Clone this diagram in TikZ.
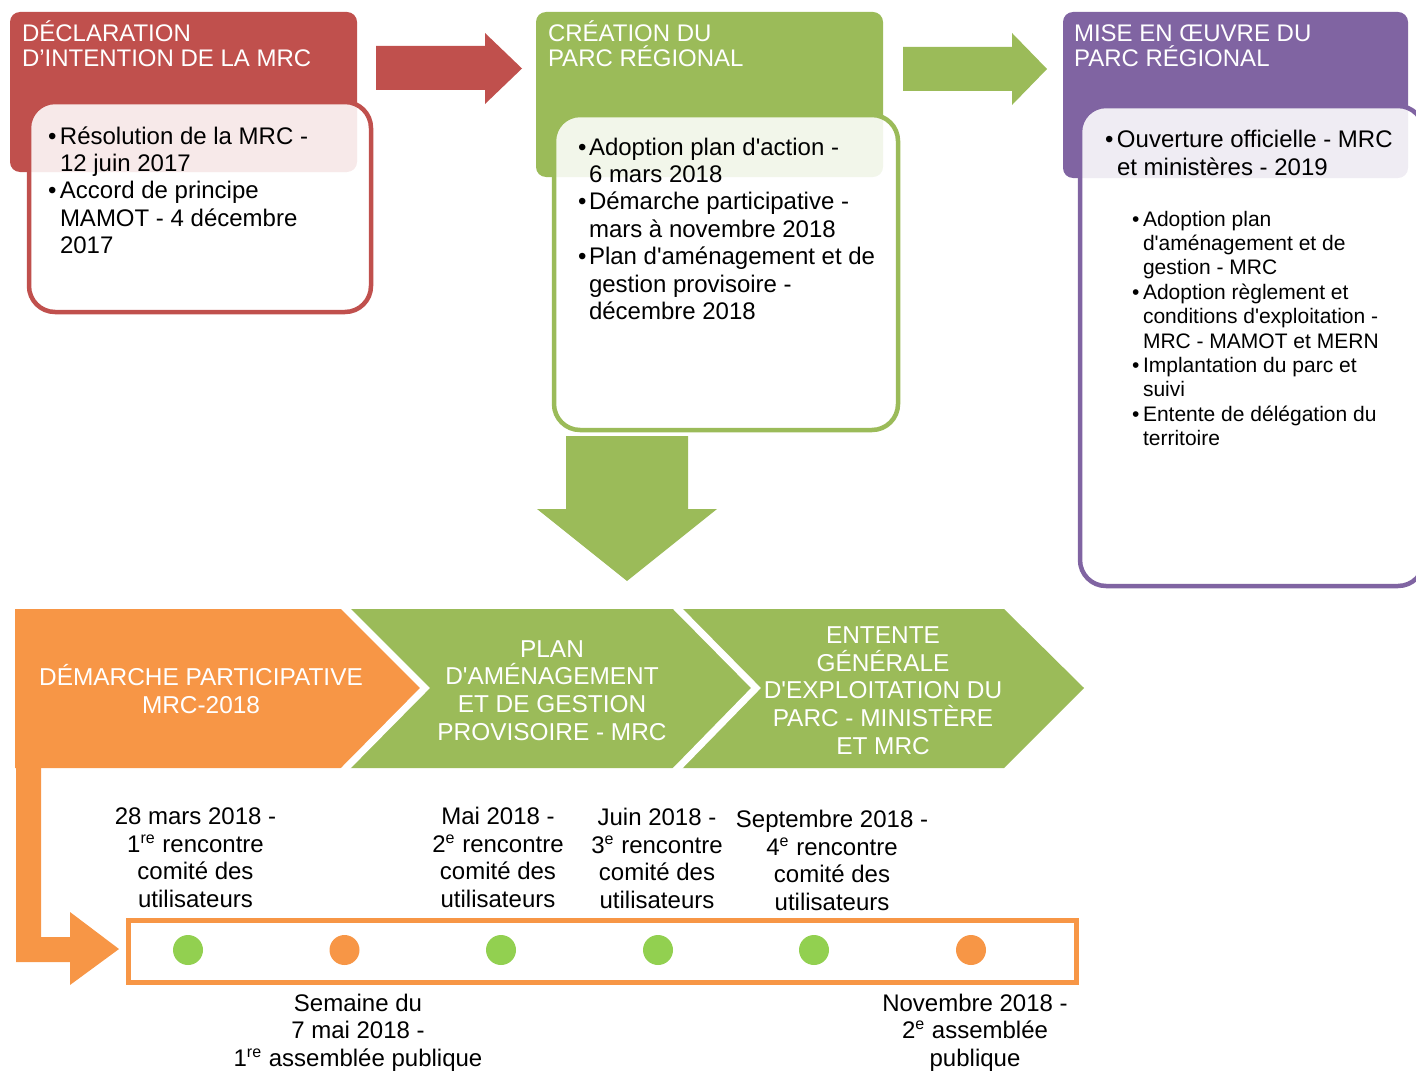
\documentclass[tikz,border=0pt]{standalone}
\usepackage{fontspec}
\setmainfont{Liberation Sans}[Ligatures=TeXOff]
\usepackage{tikz}
\usetikzlibrary{calc}
\definecolor{declred}{HTML}{C0504D}
\definecolor{parcgreen}{HTML}{9BBB59}
\definecolor{miseviolet}{HTML}{8064A2}
\definecolor{demorange}{HTML}{F79646}
\definecolor{dotgreen}{HTML}{92D050}
\newenvironment{blist}[1]{\begin{tabular}[t]{@{}p{#1}@{}l@{}}}{\end{tabular}}

\begin{document}
\begin{tikzpicture}[x=0.5pt,y=-0.5pt,
    every node/.style={inner sep=0pt,outer sep=0pt},
    hdrtext/.style={anchor=base west,align=left,text=white,font=\fontsize{12}{12.9}\selectfont},
    bodytext/.style={anchor=base west,font=\fontsize{12}{13.7}\selectfont},
    smalltext/.style={anchor=base west,font=\fontsize{10.5}{12.2}\selectfont},
    chevtext/.style={anchor=base,align=center,text=white,font=\fontsize{12.2}{13.8}\selectfont},
    datetext/.style={anchor=base,align=center,font=\fontsize{12}{13.7}\selectfont},
    inbox/.style={draw=#1,line width=2.25pt,fill=white,fill opacity=0.88,rounded corners=13pt},
    tdot/.style={circle,minimum size=15pt,fill=#1}]

            \useasboundingbox (0,0) rectangle (1416,1070);
            \clip (0,0) rectangle (1416,1070);

            % Phase headers (anchored on their last line)
            \fill[declred,rounded corners=5pt] (10,12) rectangle (357,172);
            \fill[parcgreen,rounded corners=5pt] (536,12) rectangle (883,177);
            \fill[miseviolet,rounded corners=5pt] (1063,12) rectangle (1408,178);

            \node[hdrtext] (hDecl) at (22,67) {DÉCLARATION\\D’INTENTION DE LA MRC};
            \node[hdrtext] (hParc) at (548,67) {CRÉATION DU\\PARC RÉGIONAL};
            \node[hdrtext] (hMise) at (1074,67) {MISE EN ŒUVRE DU\\PARC RÉGIONAL};

            % Detail boxes
            \draw[inbox=declred] (29,102) rectangle (371,312);
            \draw[inbox=parcgreen] (554,115) rectangle (898,430);
            \draw[inbox=miseviolet] (1080,106) rectangle (1424,586);

            \node[bodytext] (lDecl) at (48,144) {\begin{blist}{6pt}
                \textbullet & Résolution de la MRC - \\ & 12 juin 2017 \\
                \textbullet & Accord de principe \\ & MAMOT - 4 décembre \\ & 2017
                \end{blist}};
            \node[bodytext] (lParc) at (578,155) {\begin{blist}{5.5pt}
                \textbullet & Adoption plan d'action - \\ & 6 mars 2018 \\
                \textbullet & Démarche participative - \\ & mars à novembre 2018 \\
                \textbullet & Plan d'aménagement et de \\ & gestion provisoire - \\ & décembre 2018
                \end{blist}};
            \node[bodytext] (lMise) at (1105,148) {\begin{blist}{6pt}
                \textbullet & Ouverture officielle - MRC \\ & et ministères - 2019
                \end{blist}};
            \node[smalltext] (sMise) at (1132,226) {\begin{blist}{5.5pt}
                \textbullet & Adoption plan \\ & d'aménagement et de \\ & gestion - MRC \\
                \textbullet & Adoption règlement et \\ & conditions d'exploitation - \\ & MRC - MAMOT et MERN \\
                \textbullet & Implantation du parc et \\ & suivi \\
                \textbullet & Entente de délégation du \\ & territoire
                \end{blist}};

            % Block arrows between phases
            \fill[declred] (376,46) -- (485,46) -- (485,33) -- (522,68.5) -- (485,104) -- (485,90) -- (376,90) -- cycle;
            \fill[parcgreen] (903,47) -- (1012,47) -- (1012,33) -- (1047,69) -- (1012,105) -- (1012,91) -- (903,91) -- cycle;
            \fill[parcgreen] (566,436) -- (688,436) -- (688,509) -- (717,509) -- (627,581) -- (537,509) -- (566,509) -- cycle;

            % Chevrons
            \fill[demorange] (15,609) -- (346,609) -- (425,688) -- (346,768) -- (15,768) -- cycle;
            \fill[parcgreen] (346,609) -- (678,609) -- (756,688) -- (678,768) -- (346,768) -- (425,688) -- cycle;
            \fill[parcgreen] (678,609) -- (1004,609) -- (1084,688) -- (1004,768) -- (678,768) -- (756,688) -- cycle;
            \draw[white,line width=3.5pt] (340,603) -- (425,688) -- (340,774);
            \draw[white,line width=3.5pt] (672,603) -- (756,688) -- (672,774);

            \node[chevtext] (cDem) at (201,713) {DÉMARCHE PARTICIPATIVE\\MRC-2018};
            \node[chevtext] (cPlan) at (552,740) {PLAN\\D'AMÉNAGEMENT\\ET DE GESTION\\PROVISOIRE - MRC};
            \node[chevtext] (cEnt) at (883,754) {ENTENTE\\GÉNÉRALE\\D'EXPLOITATION DU\\PARC - MINISTÈRE\\ET MRC};

            % Elbow arrow into the timeline
            \fill[demorange] (16,768) -- (41,768) -- (41,937) -- (70,937) -- (70,912) -- (119,949) -- (70,985) -- (70,962) -- (16,962) -- cycle;

            % Timeline
            \draw[demorange,line width=2.5pt] (128.5,920.5) rectangle (1076,982);
            \node[tdot=dotgreen] (d1) at (188,950) {};
            \node[tdot=demorange] (d2) at (344.5,950) {};
            \node[tdot=dotgreen] (d3) at (501,950) {};
            \node[tdot=dotgreen] (d4) at (658,950) {};
            \node[tdot=dotgreen] (d5) at (814,950) {};
            \node[tdot=demorange] (d6) at (971,950) {};

            \node[datetext] (t1) at (195.5,907) {28 mars 2018 -\\1\textsuperscript{re} rencontre\\comité des\\utilisateurs};
            \node[datetext] (t3) at (498,907) {Mai 2018 -\\2\textsuperscript{e} rencontre\\comité des\\utilisateurs};
            \node[datetext] (t4) at (657,908) {Juin 2018 -\\3\textsuperscript{e} rencontre\\comité des\\utilisateurs};
            \node[datetext] (t5) at (832,910) {Septembre 2018 -\\4\textsuperscript{e} rencontre\\comité des\\utilisateurs};
            \node[datetext] (t2) at (358,1066) {Semaine du\\7 mai 2018 -\\1\textsuperscript{re} assemblée publique};
            \node[datetext] (t6) at (975,1066) {Novembre 2018 -\\2\textsuperscript{e} assemblée\\publique};

\end{tikzpicture}
\end{document}
